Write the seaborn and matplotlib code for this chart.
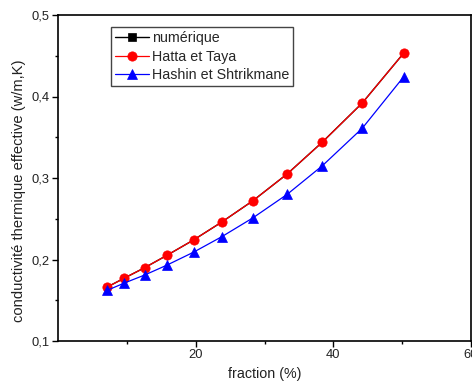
import matplotlib
matplotlib.use("Agg")
import matplotlib.pyplot as plt
import seaborn as sns
import pandas as pd
from matplotlib.ticker import FixedLocator, FixedFormatter

sns.set_theme(style="white")
plt.rcParams['font.family'] = ['Liberation Sans', 'DejaVu Sans']

fraction = [7.1, 9.6, 12.6, 15.8, 19.7, 23.8, 28.3, 33.3, 38.4, 44.2, 50.2]
numerique = [0.166, 0.177, 0.190, 0.205, 0.224, 0.246, 0.272, 0.305, 0.344, 0.392, 0.453]
hatta_taya = [0.166, 0.177, 0.190, 0.205, 0.224, 0.246, 0.272, 0.305, 0.344, 0.392, 0.453]
hashin = [0.162, 0.171, 0.181, 0.193, 0.209, 0.228, 0.251, 0.280, 0.315, 0.361, 0.424]

series_names = ["numérique", "Hatta et Taya", "Hashin et Shtrikmane"]
x_ticks = [20, 40, 60]
x_ticklabels = ["20", "40", "60"]
y_ticks = [0.1, 0.2, 0.3, 0.4, 0.5]
y_ticklabels = ["0,1", "0,2", "0,3", "0,4", "0,5"]

df = pd.DataFrame({
    "fraction": fraction * 3,
    "value": numerique + hatta_taya + hashin,
    "serie": [series_names[0]] * len(fraction) + [series_names[1]] * len(fraction) + [series_names[2]] * len(fraction),
})

fig = plt.figure(figsize=(4.72, 3.90), dpi=100)
ax = fig.add_axes([58/472, 1 - 341/390, (471 - 58)/472, (341 - 15)/390])

styles = {
    series_names[0]: dict(color="black", marker="s", lw=1.0, ms=4.5),
    series_names[1]: dict(color="red", marker="o", lw=0.9, ms=6.7),
    series_names[2]: dict(color="blue", marker="^", lw=0.9, ms=7),
}
for name in series_names:
    sub = df[df["serie"] == name]
    st = styles[name]
    sns.lineplot(data=sub, x="fraction", y="value", ax=ax, color=st["color"],
                 marker=st["marker"], markersize=st["ms"], linewidth=st["lw"],
                 markeredgecolor=st["color"], markeredgewidth=0.5, label=name)

ax.set_xlim(0, 60)
ax.set_ylim(0.1, 0.5)
ax.xaxis.set_major_locator(FixedLocator(x_ticks))
ax.xaxis.set_major_formatter(FixedFormatter(x_ticklabels))
ax.xaxis.set_minor_locator(FixedLocator([10, 30, 50]))
ax.yaxis.set_major_locator(FixedLocator(y_ticks))
ax.yaxis.set_major_formatter(FixedFormatter(y_ticklabels))
ax.yaxis.set_minor_locator(FixedLocator([0.15, 0.25, 0.35, 0.45]))

ax.tick_params(axis="both", which="major", direction="out", length=4, width=1,
               labelsize=9.3, color="black", labelcolor="#222222",
               bottom=True, left=True, pad=2)
ax.tick_params(axis="both", which="minor", direction="out", length=2.5, width=1,
               color="black", bottom=True, left=True)
for s in ax.spines.values():
    s.set_color("black")
    s.set_linewidth(1.2)

ax.set_xlabel("fraction (%)", fontsize=10.3, color="#222222", labelpad=4)
ax.set_ylabel("conductivité thermique effective (w/m,K)", fontsize=10.6, color="#222222")
ax.yaxis.set_label_coords(-0.078, 0.46)

leg = ax.legend(loc="upper left", bbox_to_anchor=(0.128, 0.963), fontsize=10.3,
                frameon=True, fancybox=False, framealpha=1, edgecolor="#444444",
                borderpad=0.3, labelspacing=0.3, handlelength=2.4, handletextpad=0.15,
                borderaxespad=0)
leg.get_frame().set_linewidth(1.0)
leg.legend_handles[0].set_markersize(6)

fig.savefig("out.png", dpi=100, facecolor="white")
